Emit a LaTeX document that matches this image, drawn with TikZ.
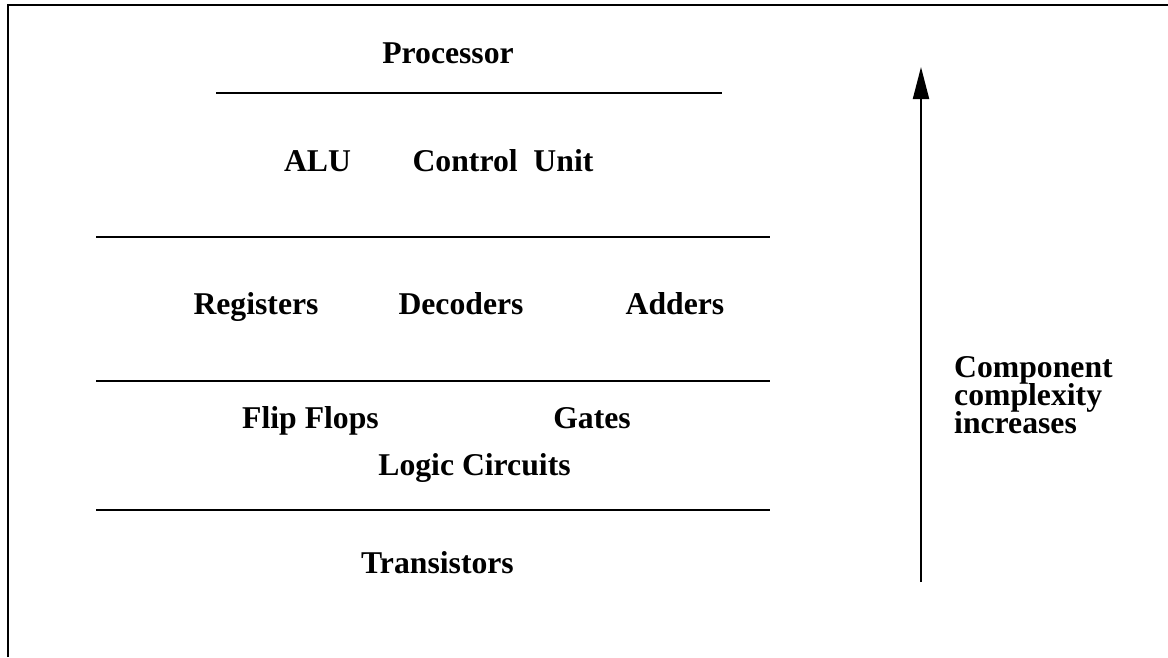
\documentclass[tikz,border=0pt]{standalone}
\usepackage{fontspec}
\setmainfont{Liberation Serif}
\usetikzlibrary{arrows.meta}
% bold label font with fixed line spacing
\newcommand\lvlfont{\fontsize{31.7}{28}\selectfont\bfseries\lineskiplimit=-50pt\relax}
\begin{document}
\begin{tikzpicture}[x=1pt, y=-1pt,
  lbl/.style={font=\lvlfont, anchor=base, inner sep=0pt},
  rule/.style={line width=2.2pt},
  frame/.style={line width=2.3pt},
  upArrow/.style={line width=2pt, -{Triangle[length=32pt, width=16pt]}}]
  \useasboundingbox (0,0) rectangle (1168,657);

  % partial frame: top and left edges only
  \draw[frame] (8,657) -- (8,5) -- (1168,5);

  % level labels
  \node[lbl] (proc) at (448,63) {Processor};
  \node[lbl] (alu)  at (317.5,171) {ALU};
  \node[lbl] (cu)   at (503,171) {Control~~Unit};
  \node[lbl] (reg)  at (256,314) {Registers};
  \node[lbl] (dec)  at (461,314) {Decoders};
  \node[lbl] (add)  at (675,314) {Adders};
  \node[lbl] (ff)   at (310.5,428) {Flip Flops};
  \node[lbl] (gat)  at (592,428) {Gates};
  \node[lbl] (lc)   at (474.5,475) {Logic Circuits};
  \node[lbl] (tr)   at (437.5,573) {Transistors};

  % separating rules between levels
  \draw[rule] (216,93) -- (722,93);
  \draw[rule] (96,237) -- (770,237);
  \draw[rule] (96,381) -- (770,381);
  \draw[rule] (96,510) -- (770,510);

  % complexity arrow
  \coordinate (abot) at (921,582);
  \coordinate (atop) at (921,67);
  \draw[upArrow] (abot) -- (atop);

  % the node's base anchor sits on the last line's baseline
  \node[lbl, anchor=base west, align=left] (cci) at (954,433)
    {Component\\complexity\\increases};
\end{tikzpicture}
\end{document}
